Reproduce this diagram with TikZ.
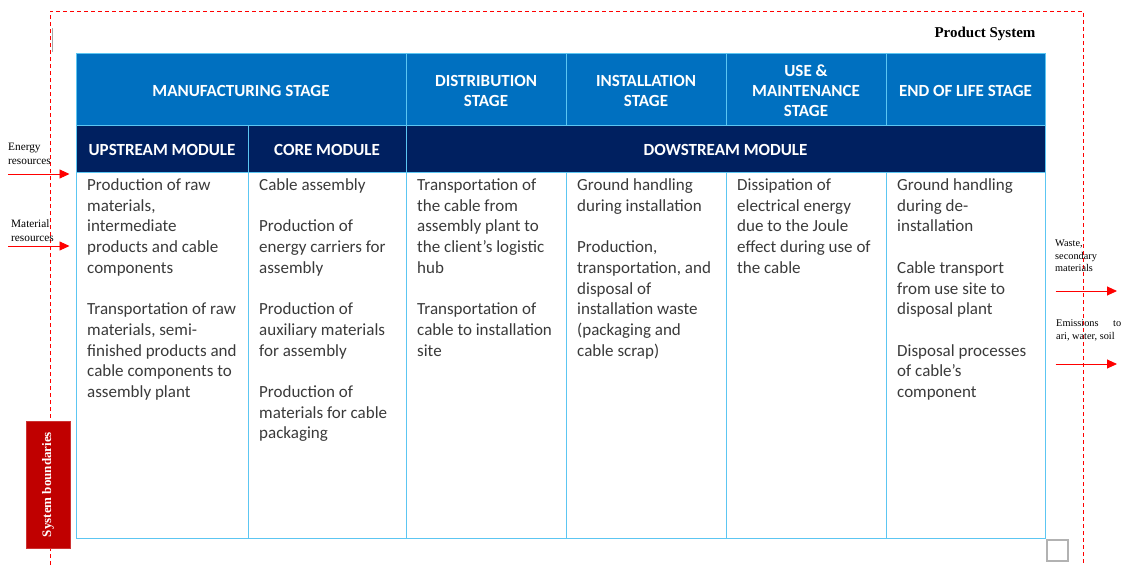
\documentclass[tikz,border=0pt]{standalone}
\usepackage{fontspec}
\setmainfont{Liberation Serif}
\newfontfamily\calibri{Carlito}
\usetikzlibrary{arrows.meta}

\definecolor{stageblue}{HTML}{0070C0}
\definecolor{modnavy}{HTML}{002060}
\definecolor{gridcyan}{HTML}{5CC6F2}
\definecolor{bodygray}{HTML}{3A3A3A}
\definecolor{bndred}{HTML}{C00000}

% lifts the first header line so the caps sit as in the table
\newcommand{\capstrut}{\rule{0pt}{15pt}}

\tikzset{
  stagecell/.style={draw=gridcyan, line width=1pt, fill=stageblue, text=white, inner sep=0pt,
    align=center, font=\calibri\bfseries\fontsize{17}{20}\selectfont},
  modcell/.style={stagecell, fill=modnavy},
  bodycell/.style={draw=gridcyan, line width=1pt, inner sep=0pt},
  bodytext/.style={anchor=north west, inner sep=0pt, align=left, text=bodygray,
    font=\calibri\fontsize{17}{20.7}\selectfont},
  sidetext/.style={anchor=north west, inner sep=0pt, align=left, font=\fontsize{11.3}{14}\selectfont},
  flow/.style={draw=red, line width=0.9pt, -{Triangle[length=10pt,width=9pt]}}
}

\begin{document}
\begin{tikzpicture}[x=1pt,y=-1pt]
\useasboundingbox (0,0) rectangle (1124,565);

% system boundary
\draw[red, line width=0.8pt, dash pattern=on 4pt off 3pt] (50,565) -- (50,11) -- (1083,11) -- (1083,565);
\draw[gray!70, line width=0.6pt] (52,28) -- (52,52);
\node[font=\bfseries\fontsize{15}{17}\selectfont, inner sep=0pt] (prodsys) at (985,33.5) {Product System};

% stage row
\node[stagecell, minimum width=330pt, minimum height=72pt] (manuf) at (241,89) {\capstrut MANUFACTURING STAGE};
\node[stagecell, minimum width=160pt, minimum height=72pt] (distr) at (486,89) {\capstrut DISTRIBUTION\\STAGE};
\node[stagecell, minimum width=160pt, minimum height=72pt] (instal) at (646,89) {\capstrut INSTALLATION\\STAGE};
\node[stagecell, minimum width=160pt, minimum height=72pt] (usemaint) at (806,89) {\capstrut USE \&\\MAINTENANCE\\STAGE};
\node[stagecell, minimum width=159pt, minimum height=72pt] (eol) at (965.5,89) {\capstrut END OF LIFE STAGE};

% module row
\node[modcell, minimum width=172pt, minimum height=47pt] (upstream) at (162,148.5) {\capstrut UPSTREAM MODULE};
\node[modcell, minimum width=158pt, minimum height=47pt] (core) at (327,148.5) {\capstrut CORE MODULE};
\node[modcell, minimum width=639pt, minimum height=47pt] (downstream) at (725.5,148.5) {\capstrut DOWSTREAM MODULE};

% body cells
\node[bodycell, minimum width=172pt, minimum height=366pt] (upbody) at (162,355) {};
\node[bodycell, minimum width=158pt, minimum height=366pt] (corebody) at (327,355) {};
\node[bodycell, minimum width=160pt, minimum height=366pt] (distbody) at (486,355) {};
\node[bodycell, minimum width=160pt, minimum height=366pt] (instbody) at (646,355) {};
\node[bodycell, minimum width=160pt, minimum height=366pt] (usebody) at (806,355) {};
\node[bodycell, minimum width=159pt, minimum height=366pt] (eolbody) at (965.5,355) {};

\node[bodytext] (uptxt) at ([xshift=11.5pt,yshift=-7pt]upbody.north west)
  {Production of raw\\materials,\\intermediate\\products and cable\\components\\[20.7pt]
   Transportation of raw\\materials, semi-\\finished products and\\cable components to\\assembly plant};
\node[bodytext] (coretxt) at ([xshift=11.5pt,yshift=-7pt]corebody.north west)
  {Cable assembly\\[20.7pt]Production of\\energy carriers for\\assembly\\[20.7pt]
   Production of\\auxiliary materials\\for assembly\\[20.7pt]Production of\\materials for cable\\packaging};
\node[bodytext] (disttxt) at ([xshift=11.5pt,yshift=-7pt]distbody.north west)
  {Transportation of\\the cable from\\assembly plant to\\the client’s logistic\\hub\\[20.7pt]
   Transportation of\\cable to installation\\site};
\node[bodytext] (insttxt) at ([xshift=11.5pt,yshift=-7pt]instbody.north west)
  {Ground handling\\during installation\\[20.7pt]Production,\\transportation, and\\disposal of\\installation waste\\(packaging and\\cable scrap)};
\node[bodytext] (usetxt) at ([xshift=11.5pt,yshift=-7pt]usebody.north west)
  {Dissipation of\\electrical energy\\due to the Joule\\effect during use of\\the cable};
\node[bodytext] (eoltxt) at ([xshift=11.5pt,yshift=-7pt]eolbody.north west)
  {Ground handling\\during de-\\installation\\[20.7pt]Cable transport\\from use site to\\disposal plant\\[20.7pt]
   Disposal processes\\of cable’s\\component};

% inputs
\node[sidetext] (energy) at (8,142.5) {Energy\\resources};
\node[sidetext] (material) at (11,219.5) {Material\\resources};
\coordinate (energyin) at (8,174);
\coordinate (materialin) at (8,246);
\draw[flow, shorten >=6pt] (energyin) -- (energyin -| upbody.west);
\draw[flow, shorten >=6pt] (materialin) -- (materialin -| upbody.west);

% outputs
\node[sidetext, font=\fontsize{10.3}{12.5}\selectfont] (waste) at (1055,240) {Waste,\\secondary\\materials};
\node[sidetext, font=\fontsize{10.3}{13.5}\selectfont] (emis) at (1056,319) {\makebox[65pt][s]{Emissions\hfill to}\\ari, water, soil};
\coordinate (wasteout) at (1117,291);
\coordinate (emisout) at (1117,364);
\draw[flow] ([xshift=10pt]eolbody.east |- wasteout) -- (wasteout);
\draw[flow] ([xshift=10pt]eolbody.east |- emisout) -- (emisout);

% boundary label and marker
\node[fill=bndred, draw=bndred!80, rotate=90, minimum width=127pt, minimum height=44pt, inner sep=0pt,
  text=white, font=\bfseries\fontsize{13}{15}\selectfont] (sysbnd) at (48,484.5) {System boundaries};
\node[draw=gray!60, line width=1.8pt, minimum size=21pt, inner sep=0pt] (marker) at (1057.5,550.5) {};
\end{tikzpicture}
\end{document}
